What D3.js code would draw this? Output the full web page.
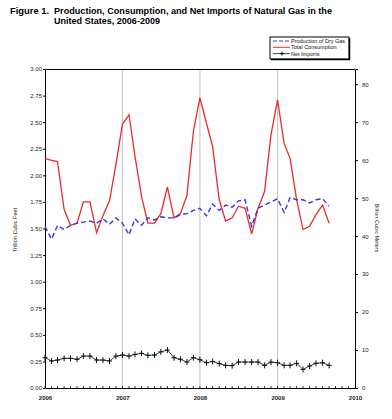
<!DOCTYPE html>
<html><head><meta charset="utf-8">
<script src="https://cdn.jsdelivr.net/npm/d3@7"></script>
<style>body{margin:0;background:#fff}svg{display:block}text{font-family:"Liberation Sans",Arial,sans-serif}</style>
</head><body><svg id="c" width="392" height="419"></svg>
<script>
const months = d3.range(45).map(i => new Date(2006, i, 1));
const production = [1.52,1.40,1.53,1.49,1.53,1.55,1.56,1.57,1.55,1.59,1.54,1.60,
  1.55,1.44,1.59,1.53,1.60,1.58,1.61,1.60,1.60,1.63,1.64,1.67,
  1.69,1.62,1.73,1.67,1.72,1.70,1.76,1.77,1.52,1.69,1.72,1.75,
  1.78,1.65,1.79,1.77,1.77,1.74,1.77,1.78,1.71];
const consumption = [2.16,2.14,2.13,1.68,1.53,1.55,1.75,1.75,1.46,1.62,1.76,2.10,
  2.48,2.57,2.18,1.80,1.55,1.55,1.64,1.89,1.60,1.64,1.81,2.41,
  2.73,2.49,2.27,1.77,1.57,1.60,1.71,1.69,1.45,1.69,1.85,2.38,
  2.71,2.30,2.16,1.77,1.49,1.52,1.63,1.72,1.55];
const netImports = [0.285,0.254,0.263,0.279,0.279,0.27,0.30,0.30,0.263,0.263,0.254,0.30,
  0.31,0.30,0.316,0.326,0.307,0.31,0.34,0.357,0.285,0.27,0.244,0.285,
  0.266,0.238,0.25,0.229,0.213,0.21,0.244,0.244,0.244,0.244,0.213,0.244,
  0.238,0.213,0.213,0.232,0.175,0.207,0.232,0.238,0.213];
const leftTicks = d3.range(0, 3.001, 0.25);
const rightTicks = d3.range(0, 81, 10);
const yearTicks = [2006,2007,2008,2009,2010];
const seriesNames = ["Production of Dry Gas","Total Consumption","Net Imports"];

const svg = d3.select("#c");
const L=45, R=355, T=69, B=388;
const x = d3.scaleTime().domain([new Date(2006,0,1), new Date(2010,0,1)]).range([L,R]);
const y = d3.scaleLinear().domain([0,3]).range([B,T]);
const y2 = d3.scaleLinear().domain([0,84]).range([B,T]);

// title
svg.append("text").attr("x",10).attr("y",14).attr("font-size",9.5).attr("font-weight","bold")
  .attr("textLength",39).attr("lengthAdjust","spacingAndGlyphs").text("Figure 1.");
svg.append("text").attr("x",54).attr("y",14).attr("font-size",9.5).attr("font-weight","bold")
  .attr("textLength",278).attr("lengthAdjust","spacingAndGlyphs")
  .text("Production, Consumption, and Net Imports of Natural Gas in the");
svg.append("text").attr("x",54).attr("y",24).attr("font-size",9.5).attr("font-weight","bold")
  .attr("textLength",106).attr("lengthAdjust","spacingAndGlyphs")
  .text("United States, 2006-2009");

// gridlines
svg.append("g").selectAll("line").data(yearTicks.slice(1,4)).join("line")
  .attr("x1",d=>x(new Date(d,0,1))).attr("x2",d=>x(new Date(d,0,1)))
  .attr("y1",T).attr("y2",B).attr("stroke","#c8c8c8").attr("stroke-width",1.2);

// top border
svg.append("line").attr("x1",L).attr("x2",R).attr("y1",T+0.5).attr("y2",T+0.5).attr("stroke","#000").attr("stroke-width",1);

// left axis
const gl = svg.append("g").attr("transform",`translate(${L},0)`)
  .call(d3.axisLeft(y).tickValues(leftTicks).tickFormat(d3.format(".2f")).tickSize(2).tickPadding(1));
gl.selectAll("text").attr("font-size",6).attr("font-family","Liberation Sans Narrow, Liberation Sans, Arial").attr("fill","#222");
// right axis
const gr = svg.append("g").attr("transform",`translate(${R},0)`)
  .call(d3.axisRight(y2).tickValues(rightTicks).tickSize(3).tickPadding(4));
gr.selectAll("text").attr("font-size",6).attr("fill","#222");
// bottom axis
const gb = svg.append("g").attr("transform",`translate(0,${B})`)
  .call(d3.axisBottom(x).tickValues(yearTicks.map(d=>new Date(d,0,1))).tickFormat(d3.timeFormat("%Y")).tickSize(0).tickPadding(8));
gb.selectAll("text").attr("font-size",6).attr("font-weight","bold").attr("fill","#222");
svg.append("g").selectAll("line").data(d3.timeMonth.range(new Date(2006,0,1), new Date(2010,0,1))).join("line")
  .attr("x1",d=>x(d)).attr("x2",d=>x(d)).attr("y1",B).attr("y2",B-2).attr("stroke","#000").attr("stroke-width",0.8);
svg.selectAll(".domain").attr("stroke","#000").attr("stroke-width",1);

// axis titles
svg.append("text").attr("transform",`translate(17,230) rotate(-90)`).attr("text-anchor","middle")
  .attr("font-size",5.5).attr("fill","#222").text("Trillion Cubic Feet");
svg.append("text").attr("transform",`translate(375,228) rotate(90)`).attr("text-anchor","middle")
  .attr("font-size",5.5).attr("fill","#222").text("Billion Cubic Meters");

const line = d3.line().x((d,i)=>x(months[i])).y(d=>y(d));
svg.append("path").datum(consumption).attr("d",line).attr("fill","none").attr("stroke","#ee2a2a").attr("stroke-width",1.3);
svg.append("path").datum(production).attr("d",line).attr("fill","none").attr("stroke","#3a36d8").attr("stroke-width",1.4).attr("stroke-dasharray","5,3");
svg.append("path").datum(netImports).attr("d",line).attr("fill","none").attr("stroke","#245a24").attr("stroke-width",1);
const mk = svg.append("g").attr("stroke","#111").attr("stroke-width",1);
netImports.forEach((d,i)=>{
  const cx=x(months[i]), cy=y(d);
  mk.append("line").attr("x1",cx-2.5).attr("x2",cx+2.5).attr("y1",cy).attr("y2",cy);
  mk.append("line").attr("x1",cx).attr("x2",cx).attr("y1",cy-3).attr("y2",cy+3);
});

// legend
const lg = svg.append("g");
lg.append("rect").attr("x",270).attr("y",37).attr("width",79).attr("height",22).attr("fill","none").attr("stroke","#000").attr("stroke-width",1);
lg.append("line").attr("x1",349.5).attr("x2",349.5).attr("y1",38).attr("y2",60).attr("stroke","#000").attr("stroke-width",1.5);
lg.append("line").attr("x1",271).attr("x2",350).attr("y1",59.5).attr("y2",59.5).attr("stroke","#000").attr("stroke-width",1.5);
const styles = [{c:"#3a36d8",dash:"4,2"},{c:"#ee2a2a",dash:null},{c:"#245a24",dash:null}];
seriesNames.forEach((n,i)=>{
  const yy = 41 + i*6.3;
  lg.append("line").attr("x1",273).attr("x2",290).attr("y1",yy).attr("y2",yy)
    .attr("stroke",styles[i].c).attr("stroke-width",1).attr("stroke-dasharray",styles[i].dash);
  if(i===2){
    lg.append("line").attr("x1",280).attr("x2",284).attr("y1",yy).attr("y2",yy).attr("stroke","#000");
    lg.append("line").attr("x1",282).attr("x2",282).attr("y1",yy-2).attr("y2",yy+2).attr("stroke","#000");
  }
  lg.append("text").attr("x",291).attr("y",yy+2).attr("font-size",5.5).attr("fill","#111").text(n);
});
</script></body></html>
